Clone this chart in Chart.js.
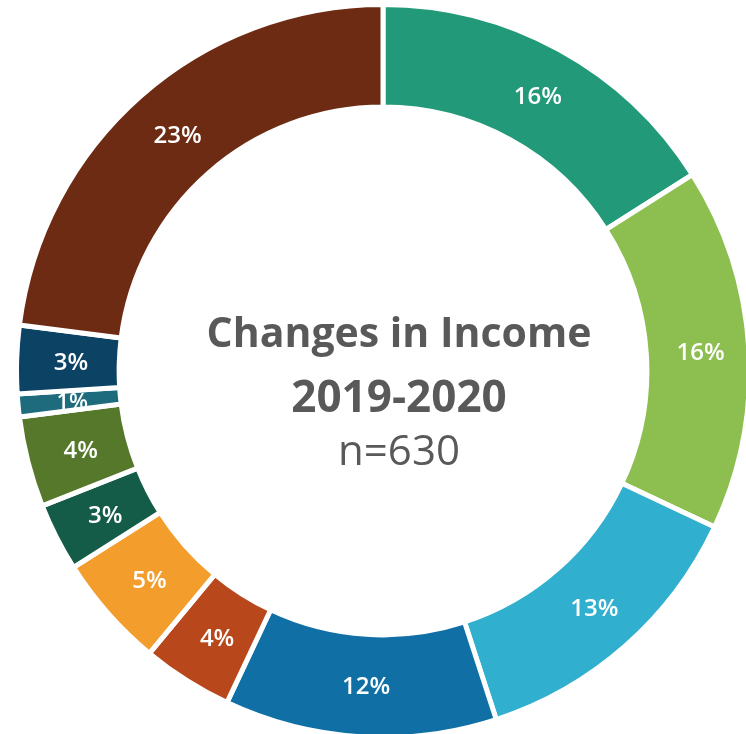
<!DOCTYPE html>
<html>
<head>
<meta charset="utf-8">
<script src="https://cdn.jsdelivr.net/npm/chart.js@4"></script>
<style>
html,body{margin:0;padding:0;background:#fff;overflow:hidden;width:746px;height:734px;}
#c{position:absolute;left:14px;top:2px;}
</style>
</head>
<body>
<canvas id="c" width="738" height="738"></canvas>
<script>
const categories = ['Cat 1','Cat 2','Cat 3','Cat 4','Cat 5','Cat 6','Cat 7','Cat 8','Cat 9','Cat 10','Cat 11'];
const values = [16, 16, 13, 12, 4, 5, 3, 4, 1, 3, 23];
const colors = ['#229A79','#8DBF50','#31AFCE','#1070A6','#B8471C','#F29D2C','#145C48','#56782B','#1D6B7D','#0C4364','#6D2B13'];
const centerLines = ['Changes in Income', '2019-2020', 'n=630'];

const labelPlugin = {
  id: 'sliceLabels',
  afterDatasetsDraw(chart) {
    const ctx = chart.ctx;
    const meta = chart.getDatasetMeta(0);
    ctx.save();
    ctx.fillStyle = '#ffffff';
    ctx.textAlign = 'center';
    ctx.textBaseline = 'middle';
    meta.data.forEach((arc, i) => {
      const p = arc.tooltipPosition();
      const v = values[i];
      ctx.font = '600 ' + (v <= 1 ? '22px' : '24px') + ' "Open Sans"';
      ctx.fillText(v + '%', p.x + 3, p.y + 2);
    });
    ctx.restore();
  }
};

const centerPlugin = {
  id: 'centerText',
  afterDraw(chart) {
    const ctx = chart.ctx;
    const arc = chart.getDatasetMeta(0).data[0];
    const cx = arc.x + 16, cy = arc.y;
    ctx.save();
    ctx.fillStyle = '#595959';
    ctx.textAlign = 'center';
    ctx.textBaseline = 'middle';
    ctx.font = 'bold 41px "Open Sans"';
    ctx.fillText(centerLines[0], cx, cy - 36);
    ctx.font = 'bold 44px "Open Sans"';
    ctx.fillText(centerLines[1], cx, cy + 28);
    ctx.font = '42px "Open Sans"';
    ctx.fillText(centerLines[2], cx, cy + 82);
    ctx.restore();
  }
};

new Chart(document.getElementById('c'), {
  type: 'doughnut',
  data: {
    labels: categories,
    datasets: [{
      data: values,
      backgroundColor: colors,
      borderColor: '#ffffff',
      borderWidth: 5,
      hoverOffset: 0,
      offset: 0
    }]
  },
  options: {
    responsive: false,
    animation: false,
    cutout: '72%',
    layout: { padding: 0 },
    plugins: { legend: { display: false }, tooltip: { enabled: false } },
    events: []
  },
  plugins: [labelPlugin, centerPlugin]
});
</script>
</body>
</html>
